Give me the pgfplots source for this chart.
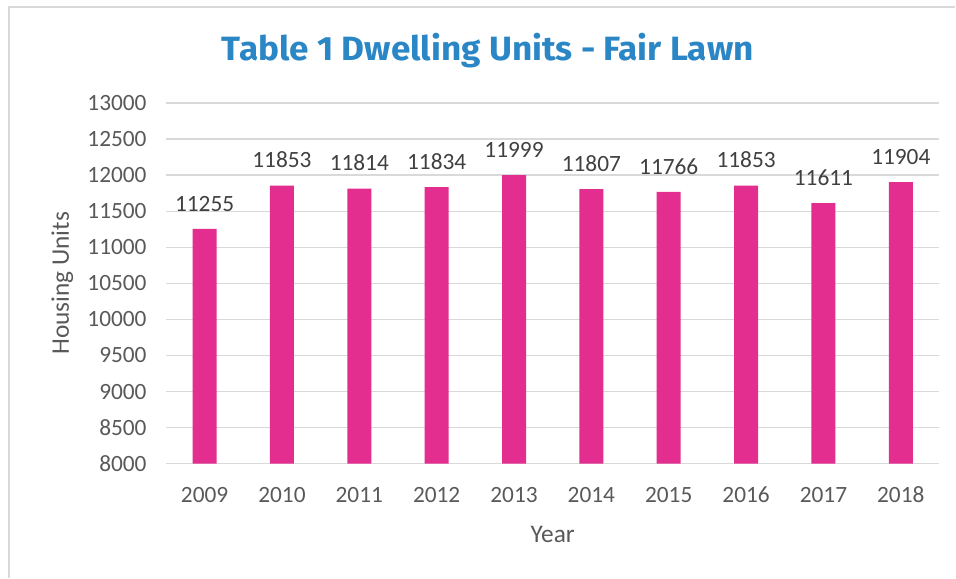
\documentclass[border=0pt]{standalone}
\usepackage{fontspec}
\setmainfont{Carlito}
\newfontfamily\titlefont{Fira Sans}
\usepackage{pgfplots}
\pgfplotsset{compat=1.18}
\usepackage{graphicx}

\definecolor{barpink}{HTML}{E32D8F}
\definecolor{titleblue}{HTML}{2A86C4}
\definecolor{textgray}{HTML}{595959}
\definecolor{labelgray}{HTML}{404040}
\definecolor{gridgray}{HTML}{D9D9D9}
\definecolor{framegray}{HTML}{D9D9D9}

\begin{document}
\begin{tikzpicture}
% page area: 956 x 578 px at 0.75pt per px
\path (-124.5pt,-85.5pt) rectangle (592.5pt,348pt);
\draw[framegray, line width=0.8pt] (-117.75pt,-85.5pt) -- (-117.75pt,342.75pt) -- (592.5pt,342.75pt);
\begin{axis}[
    scale only axis,
    width=580.5pt,
    height=270.75pt,
    ymin=8000, ymax=13000,
    ytick distance=500,
    scaled y ticks=false,
    xmin=-0.5, xmax=9.5,
    xtick={0,...,9},
    xticklabels={2009,2010,2011,2012,2013,2014,2015,2016,2017,2018},
    axis line style={draw=none},
    major tick length=0pt,
    ymajorgrids,
    grid style={gridgray, line width=1pt},
    /pgf/number format/1000 sep={},
    /pgf/number format/assume math mode=true,
    tick label style={font=\fontsize{17.5}{20}\selectfont, text=textgray},
    yticklabel style={xshift=-11pt},
    xticklabel style={anchor=base, yshift=-29.25pt},
    xlabel={Year},
    ylabel={Housing Units},
    every axis x label/.style={at={(axis description cs:0.5,-0.197)}, anchor=center,
        font=\fontsize{19}{22}\selectfont, text=textgray},
    every axis y label/.style={at={(axis description cs:-0.134,0.5)}, rotate=90, anchor=center,
        font=\fontsize{19}{22}\selectfont, text=textgray},
    title={\titlefont\bfseries\resizebox{399pt}{20.5pt}{Table 1 Dwelling Units - Fair Lawn}},
    title style={at={(axis description cs:0.416,1.124)}, anchor=center, text=titleblue},
    nodes near coords,
    nodes near coords style={font=\fontsize{17.5}{20}\selectfont, text=labelgray, anchor=base, inner sep=0pt, yshift=13.3pt,
        /pgf/number format/1000 sep={}, /pgf/number format/assume math mode=true},
    clip=false,
]
\addplot[ybar, bar width=18pt, fill=barpink, draw=none, bar shift=0pt] coordinates {
    (0,11255) (1,11853) (2,11814) (3,11834) (4,11999)
    (5,11807) (6,11766) (7,11853) (8,11611) (9,11904)
};
\end{axis}
\end{tikzpicture}
\end{document}
